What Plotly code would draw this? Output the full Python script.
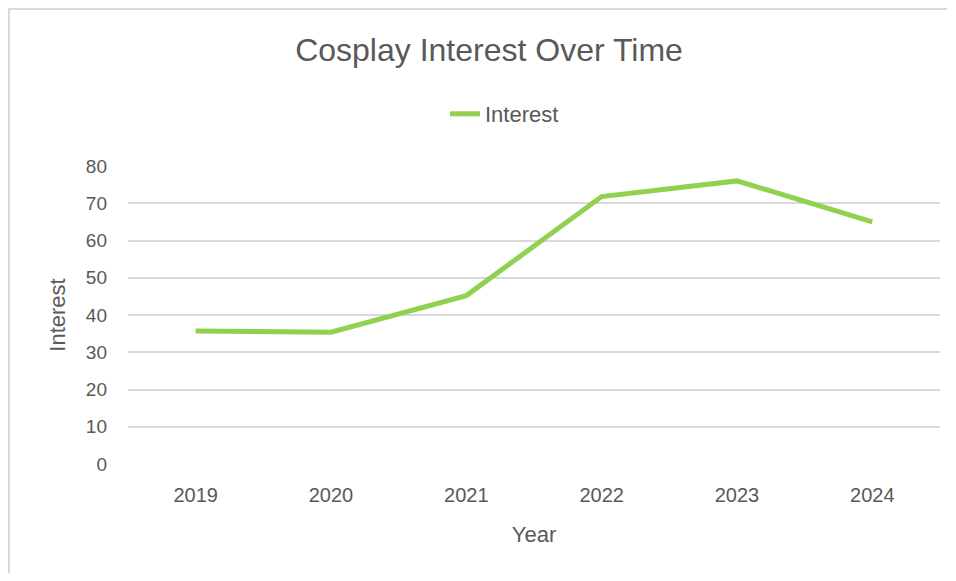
import plotly.graph_objects as go

years = ["2019", "2020", "2021", "2022", "2023", "2024"]
interest = [35.7, 35.4, 45.2, 71.8, 76.0, 65.0]
y_ticks = [0, 10, 20, 30, 40, 50, 60, 70, 80]

# page has an 8px body margin; figure sized so page stays 956x581
W, H = 940, 565
L, R, T, B = 120, 8, 158, 109
pw = W - L - R
ph = H - T - B

font = "Liberation Sans, Arial, sans-serif"
grey = "#595959"

fig = go.Figure()
fig.add_trace(go.Scatter(
    x=years, y=interest, mode="lines", name="Interest",
    line=dict(color="#92D050", width=5),
))

fig.update_layout(
    width=W, height=H,
    margin=dict(l=L, r=R, t=T, b=B),
    paper_bgcolor="white", plot_bgcolor="white",
    title=dict(text="Cosplay Interest Over Time", x=(489 - 8) / W, xanchor="center",
               y=1 - 42 / H, yanchor="middle",
               font=dict(family=font, size=32, color=grey)),
    showlegend=True,
    legend=dict(orientation="h", x=(445 - 8 - L) / pw, xanchor="left",
                y=1 + (T - 106) / ph, yanchor="middle",
                font=dict(family=font, size=22, color=grey),
                bgcolor="rgba(0,0,0,0)"),
    xaxis=dict(type="category", range=[-0.5, 5.5], showgrid=False, zeroline=False,
               showline=False, ticks="", ticklabelstandoff=17,
               tickfont=dict(family=font, size=20, color=grey),
               title=dict(text="Year", font=dict(family=font, size=22, color=grey),
                          standoff=21)),
    yaxis=dict(range=[0, 80], tickvals=y_ticks, showgrid=True, gridcolor="#d9d9d9",
               gridwidth=1.5, zeroline=False, showline=False, ticks="",
               tickfont=dict(family=font, size=19, color=grey),
               ticklabelstandoff=20,
               title=dict(text="Interest", font=dict(family=font, size=22, color=grey),
                          standoff=14)),
    shapes=[
        dict(type="line", xref="paper", yref="paper",
             x0=-L / pw, x1=(W - L - 1) / pw, y0=1 + (T - 1) / ph, y1=1 + (T - 1) / ph,
             line=dict(color="#d9d9d9", width=2)),
        dict(type="line", xref="paper", yref="paper",
             x0=(1 - L) / pw, x1=(1 - L) / pw, y0=1 + T / ph, y1=-B / ph,
             line=dict(color="#d9d9d9", width=2)),
    ],
)

fig.write_html("out.html")
